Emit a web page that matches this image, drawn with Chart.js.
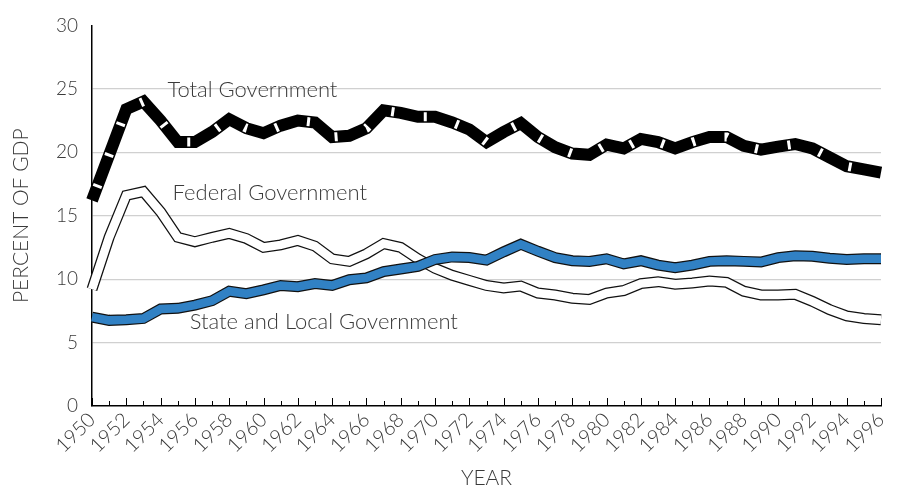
<!DOCTYPE html>
<html>
<head>
<meta charset="utf-8">
<script src="https://cdn.jsdelivr.net/npm/chart.js@4.4.0/dist/chart.umd.min.js"></script>
<style>
  html,body{margin:0;padding:0;background:#fff;}
  #wrap{width:905px;height:491px;}
</style>
</head>
<body>
<div id="wrap"><canvas id="myChart" width="905" height="491"></canvas></div>
<script>
// years 1950..1996
const years = []
for (let y = 1950; y <= 1996; y++) years.push(String(y))

const totalGov = [16.2,19.8,23.4,24.0,22.5,20.8,20.8,21.6,22.6,21.9,21.5,22.1,22.5,22.35,21.2,21.3,21.9,23.3,23.1,22.8,22.8,22.35,21.8,20.8,21.6,22.3,21.2,20.4,19.9,19.8,20.6,20.3,21.05,20.8,20.3,20.8,21.2,21.2,20.5,20.2,20.45,20.65,20.3,19.6,18.9,18.65,18.4]
const federalGov = [9.2,13.3,16.6,16.9,15.3,13.3,12.95,13.3,13.6,13.2,12.5,12.7,13.05,12.6,11.6,11.4,12.0,12.8,12.5,11.6,10.85,10.3,9.9,9.5,9.3,9.45,8.9,8.75,8.5,8.4,8.9,9.1,9.65,9.8,9.6,9.7,9.85,9.75,9.05,8.75,8.75,8.8,8.25,7.6,7.1,6.9,6.8]
const stateLocalGov = [7.0,6.75,6.8,6.9,7.65,7.7,7.95,8.3,9.05,8.85,9.15,9.5,9.4,9.65,9.5,9.95,10.1,10.6,10.8,11.0,11.55,11.75,11.7,11.5,12.15,12.75,12.2,11.7,11.45,11.4,11.6,11.2,11.45,11.1,10.9,11.1,11.4,11.45,11.4,11.35,11.7,11.85,11.8,11.65,11.55,11.6,11.6]
const yTicks = [0,5,10,15,20,25,30]

// series names + where the name sits (year index, value)
const seriesLabels = [
  {text:'Total Government', at:[4.4,24.95]},
  {text:'Federal Government', at:[4.7,16.8]},
  {text:'State and Local Government', at:[5.7,6.6]}
]

const FONT = 'Lato, "Open Sans", "DejaVu Sans", sans-serif'
const TXT = '#3a3a3a'

// small ticks inside the x axis, plus the series names
const extras = {
  id:'extras',
  afterDatasetsDraw(chart){
    const ctx = chart.ctx
    const x = chart.scales.x, y = chart.scales.y
    const base = chart.chartArea.bottom
    ctx.save()
    ctx.strokeStyle = '#000'
    ctx.lineWidth = 1
    years.forEach((yr,i)=>{
      const px = Math.round(x.getPixelForValue(i)) + 0.5
      ctx.beginPath()
      ctx.moveTo(px, base)
      ctx.lineTo(px, base - (i % 2 === 0 ? 8 : 5))
      ctx.stroke()
    })
    ctx.font = '300 22px ' + FONT
    ctx.fillStyle = TXT
    ctx.textBaseline = 'middle'
    ctx.textAlign = 'left'
    seriesLabels.forEach(l=>{
      ctx.fillText(l.text, x.getPixelForValue(l.at[0]), y.getPixelForValue(l.at[1]))
    })
    ctx.restore()
  }
}

const band = (data, color, width, extra) => Object.assign({
  data:data,
  borderColor:color,
  borderWidth:width,
  pointRadius:0,
  tension:0,
  fill:false,
  clip:false,
  borderJoinStyle:'miter',
  borderCapStyle:'butt'
}, extra || {})

// first in list ends up on top
const datasets = [
  band(stateLocalGov, '#3181c4', 8.5),
  band(stateLocalGov, '#111', 11),
  band(federalGov, '#fff', 8.5),
  band(federalGov, '#111', 11),
  band(totalGov, '#fff', 9, {borderDash:[3,30], borderDashOffset:-14}),
  band(totalGov, '#000', 12)
]

new Chart(document.getElementById('myChart'), {
  type:'line',
  data:{labels:years, datasets:datasets},
  options:{
    responsive:false,
    animation:false,
    events:[],
    layout:{padding:{left:0,right:24,top:20,bottom:0}},
    plugins:{legend:{display:false}, tooltip:{enabled:false}},
    scales:{
      x:{
        type:'category',
        offset:false,
        grid:{display:false, drawTicks:false},
        border:{display:true, color:'#000', width:1.5},
        ticks:{
          autoSkip:false,
          maxRotation:45, minRotation:45,
          padding:2,
          color:TXT,
          font:{family:FONT, size:20, weight:'300'},
          callback:(v,i)=> i % 2 === 0 ? years[i] : ''
        },
        title:{display:true, text:'YEAR', color:TXT, font:{family:FONT, size:21, weight:'300'}, padding:{top:0,bottom:0}},
        afterFit:(s)=>{ s.height = 85 }
      },
      y:{
        min:0, max:30,
        afterBuildTicks:(s)=>{ s.ticks = yTicks.map(v=>({value:v})) },
        grid:{
          drawTicks:false,
          color:(c)=> (c.tick && (c.tick.value === 0 || c.tick.value === 30)) ? 'rgba(0,0,0,0)' : '#d0d0d0',
          lineWidth:1.2
        },
        border:{display:true, color:'#000', width:1.5},
        ticks:{padding:14, color:TXT, font:{family:FONT, size:19, weight:'300'}},
        title:{display:true, text:'PERCENT OF GDP', color:TXT, font:{family:FONT, size:21, weight:'300'}, padding:{top:9,bottom:0}},
        afterFit:(s)=>{ s.width = 92 }
      }
    }
  },
  plugins:[extras]
})
</script>
</body>
</html>
